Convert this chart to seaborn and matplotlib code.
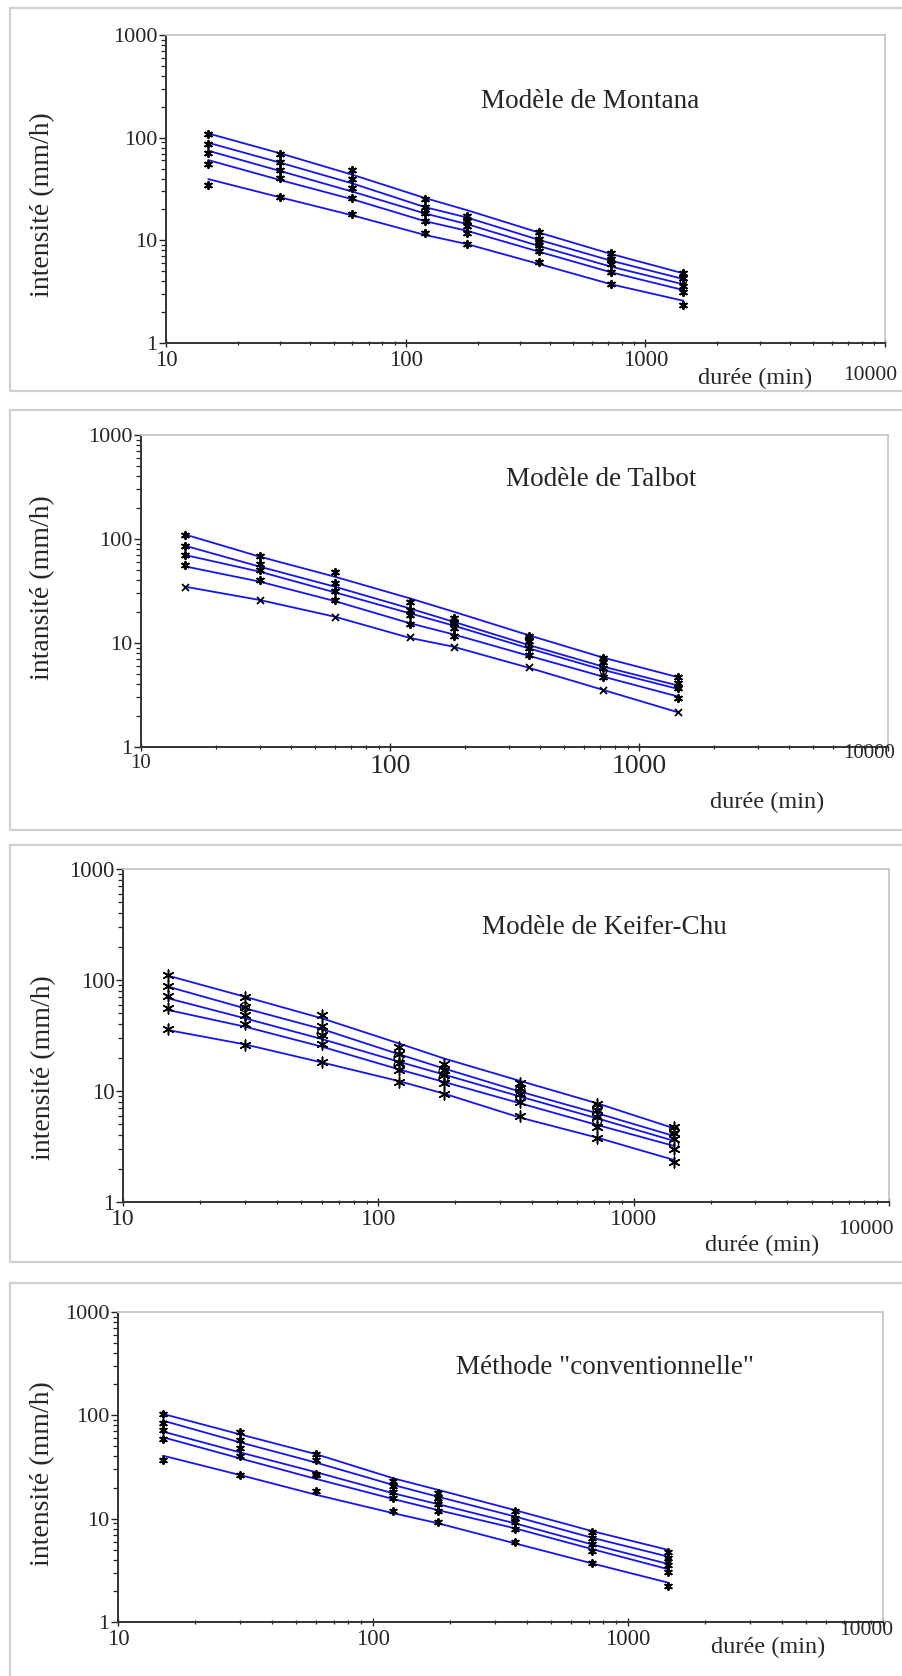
import numpy as np
import pandas as pd
import matplotlib
matplotlib.use("Agg")
import matplotlib.pyplot as plt
import seaborn as sns
from matplotlib.ticker import LogLocator, NullFormatter, FixedLocator, FixedFormatter
from matplotlib.patches import Rectangle

# ---------------- data ----------------
durations = [15, 30, 60, 120, 180, 360, 720, 1440]
x_major_ticks = [10, 100, 1000, 10000]
x_tick_labels = ["10", "100", "1000", ""]
y_major_ticks = [1, 10, 100, 1000]
y_tick_labels = ["1", "10", "100", "1000"]

titles = ["Modèle de Montana", "Modèle de Talbot", "Modèle de Keifer-Chu",
          'Méthode "conventionnelle"']
ylabels = ["intensité (mm/h)", "intansité (mm/h)", "intensité (mm/h)", "intensité (mm/h)"]
xlabel_text = "durée (min)"

# observed intensities (rows: curves from top to bottom)
montana_obs = [
    [108, 68.8, 48.4, 25.2, 17.2, 12.0, 7.47, 4.77],
    [86.1, 57.9, 39.3, 21.2, 15.4, 10.2, 6.58, 4.26],
    [70.3, 48.4, 32.1, 18.3, 13.8, 9.0, 5.84, 3.61],
    [55.3, 40.1, 25.6, 15.5, 11.9, 7.87, 4.95, 3.16],
    [34.5, 26.6, 17.9, 11.9, 9.27, 6.1, 3.75, 2.34],
]
montana_fit = [
    [110, 70.3, 43.5, 25.9, 19.7, 11.9, 7.36, 4.77],
    [89.3, 57.0, 35.8, 21.1, 16.7, 10.1, 6.33, 4.2],
    [74.6, 47.3, 29.8, 18.3, 14.4, 8.8, 5.54, 3.73],
    [60.5, 38.6, 25.1, 15.4, 12.4, 7.75, 4.88, 3.28],
    [39.5, 26.2, 17.5, 11.3, 9.2, 5.88, 3.73, 2.58],
]
talbot_obs = [
    [109, 68.7, 47.8, 25.0, 17.5, 11.8, 7.22, 4.68],
    [86.3, 57.5, 38.0, 20.8, 15.5, 10.5, 6.62, 4.1],
    [70.2, 50.3, 31.6, 18.6, 13.8, 8.9, 5.79, 3.66],
    [56.2, 40.3, 25.9, 15.1, 11.8, 7.67, 4.74, 2.94],
    [34.8, 25.9, 17.9, 11.5, 9.1, 5.84, 3.53, 2.19],
]
talbot_fit = [
    [110.6, 67.6, 43.4, 26.9, 20.0, 11.9, 7.22, 4.68],
    [86.3, 54.2, 34.8, 21.5, 16.0, 9.57, 5.92, 3.89],
    [70.2, 48.5, 30.7, 19.3, 14.7, 8.9, 5.5, 3.61],
    [54.6, 38.9, 25.3, 15.5, 12.1, 7.55, 4.74, 3.05],
    [34.8, 25.9, 17.9, 11.2, 9.2, 5.79, 3.53, 2.15],
]
keifer_obs = [
    [111, 69.8, 48.4, 25.1, 17.4, 11.7, 7.59, 4.77],
    [88.3, 56.7, 38.8, 21.4, 15.5, 10.6, 6.74, 4.16],
    [71.8, 48.4, 32.0, 17.8, 13.9, 9.3, 5.87, 3.70],
    [56.3, 40.1, 26.3, 15.5, 11.7, 8.0, 4.77, 2.98],
    [36.2, 26.0, 18.4, 12.1, 9.4, 5.95, 3.80, 2.31],
]
keifer_fit = [
    [109.4, 70.7, 45.2, 26.9, 19.7, 12.3, 7.74, 4.61],
    [87.1, 55.6, 36.2, 21.5, 16.0, 9.86, 6.3, 3.93],
    [68.4, 45.2, 29.4, 18.4, 14.1, 8.9, 5.67, 3.55],
    [53.7, 38.0, 25.1, 15.7, 12.1, 7.74, 4.94, 3.2],
    [35.4, 26.3, 18.1, 12.3, 9.5, 5.75, 3.80, 2.39],
]
conv_obs = [
    [102.4, 68.6, 42.3, 23.3, 17.6, 11.9, 7.38, 4.8],
    [85.0, 57.8, 36.7, 20.7, 15.7, 10.2, 6.46, 4.19],
    [72.2, 48.7, 27.3, 18.0, 13.9, 9.22, 5.65, 3.56],
    [58.7, 40.2, 26.3, 15.7, 11.9, 7.89, 4.9, 3.03],
    [37.0, 26.5, 18.7, 11.9, 9.29, 6.0, 3.70, 2.23],
]
conv_fit = [
    [103.2, 65.6, 42.0, 24.6, 19.0, 12.1, 7.6, 4.98],
    [88.9, 54.9, 34.8, 21.2, 16.3, 10.5, 6.55, 4.29],
    [69.6, 43.9, 28.1, 17.6, 13.8, 9.02, 5.65, 3.64],
    [61.4, 38.4, 24.2, 15.5, 12.1, 8.07, 5.09, 3.24],
    [40.7, 26.5, 17.0, 11.3, 9.02, 5.77, 3.70, 2.40],
]
# extra circle markers visible in the reference
montana_circ_x = [120, 180, 360, 360, 720, 1440]
montana_circ_y = [19, 15, 10, 9, 6.5, 4.0]
talbot_circ_x = [180, 360, 360, 720, 720, 1440]
talbot_circ_y = [16, 11, 9.5, 6.8, 5.3, 3.8]
keifer_circ_x = [30, 60, 120, 120, 180, 180, 360, 360, 720, 720, 1440, 1440]
keifer_circ_y = [57, 33, 20, 17, 15, 13, 10.3, 8.9, 7.0, 5.4, 4.45, 3.3]
conv_circ_x = [180, 360, 1440]
conv_circ_y = [15, 10, 4.0]

# ---------------- layout (pixels) ----------------
W, H = 902, 1676
sns.set_style("white")
plt.rcParams["font.family"] = ["Liberation Serif", "DejaVu Serif"]

fig = plt.figure(figsize=(W / 100, H / 100), dpi=100)

def frac_rect(x0, y0, x1, y1):
    return [x0 / W, 1 - y1 / H, (x1 - x0) / W, (y1 - y0) / H]

def fx(x):
    return x / W

def fy(y):
    return 1 - y / H

panels = [
    dict(axes=(166, 35, 885, 343), box=(10, 8, 910, 391), obs=montana_obs, fit=montana_fit,
         cx=montana_circ_x, cy=montana_circ_y, title_xy=(590, 101), ylab_xy=(43, 205),
         xlab_xy=(755, 378), x10k=(870, 376), tick_fs=16.5, ytick_fs=16, big=None, small=None,
         star_s=28, star_lw=1.4, x_lowest=False),
    dict(axes=(141, 435, 888, 747), box=(10, 410, 910, 830), obs=talbot_obs, fit=talbot_fit,
         cx=talbot_circ_x, cy=talbot_circ_y, title_xy=(601, 480), ylab_xy=(43, 588),
         xlab_xy=(767, 802), x10k=(869, 753), tick_fs=15, ytick_fs=16, big=20, small=15,
         star_s=28, star_lw=1.4, x_lowest=True),
    dict(axes=(123, 869, 889, 1202), box=(10, 845, 910, 1262), obs=keifer_obs, fit=keifer_fit,
         cx=keifer_circ_x, cy=keifer_circ_y, title_xy=(604, 928), ylab_xy=(44, 1068),
         xlab_xy=(762, 1245), x10k=(866, 1230), tick_fs=17, ytick_fs=16.5, big=None, small=None,
         star_s=60, star_lw=1.1, x_lowest=False),
    dict(axes=(118, 1312, 883, 1622), box=(10, 1283, 910, 1690), obs=conv_obs, fit=conv_fit,
         cx=conv_circ_x, cy=conv_circ_y, title_xy=(605, 1368), ylab_xy=(43, 1474),
         xlab_xy=(768, 1647), x10k=(866, 1630), tick_fs=16.5, ytick_fs=16, big=None, small=None,
         star_s=26, star_lw=1.4, x_lowest=False),
]

line_color = "#1414f0"
star = (6, 2, 0)

for i, p in enumerate(panels):
    bx0, by0, bx1, by1 = p["box"]
    fig.patches.append(Rectangle((fx(bx0), fy(by1)), (bx1 - bx0) / W, (by1 - by0) / H,
                                 transform=fig.transFigure, fill=False,
                                 edgecolor="#cfcfcf", linewidth=1.6, zorder=0))
    ax = fig.add_axes(frac_rect(*p["axes"]))
    ax.set_facecolor("none")

    fit_df = pd.DataFrame([
        dict(duree=d, intensite=v, courbe=k)
        for k, row in enumerate(p["fit"]) for d, v in zip(durations, row)
    ])
    obs_df = pd.DataFrame([
        dict(duree=d, intensite=v, courbe=k)
        for k, row in enumerate(p["obs"]) for d, v in zip(durations, row)
    ])
    circ_df = pd.DataFrame(dict(duree=p["cx"], intensite=p["cy"]))

    sns.lineplot(data=fit_df, x="duree", y="intensite", units="courbe", estimator=None,
                 color=line_color, linewidth=1.3, sort=False, ax=ax)
    if p["x_lowest"]:
        star_df = obs_df[obs_df["courbe"] < 4]
        x_df = obs_df[obs_df["courbe"] == 4]
        sns.scatterplot(data=x_df, x="duree", y="intensite", marker="x", color="black",
                        s=p["star_s"] * 0.9, linewidth=1.3, ax=ax, zorder=5)
    else:
        star_df = obs_df
    sns.scatterplot(data=star_df, x="duree", y="intensite", marker=star, color="black",
                    s=p["star_s"], linewidth=p["star_lw"], ax=ax, zorder=5)
    sns.scatterplot(data=circ_df, x="duree", y="intensite", marker="o", facecolor="none",
                    edgecolor="black", s=p["star_s"] * 0.7, linewidth=1.0, ax=ax, zorder=5)

    ax.set_xscale("log")
    ax.set_yscale("log")
    ax.set_xlim(10, 10000)
    ax.set_ylim(1, 1000)
    ax.xaxis.set_major_locator(FixedLocator(x_major_ticks))
    ax.xaxis.set_major_formatter(FixedFormatter(x_tick_labels))
    ax.xaxis.set_minor_locator(LogLocator(base=10, subs=np.arange(2, 10), numticks=20))
    ax.xaxis.set_minor_formatter(NullFormatter())
    ax.yaxis.set_major_locator(FixedLocator(y_major_ticks))
    ax.yaxis.set_major_formatter(FixedFormatter(y_tick_labels))
    ax.yaxis.set_minor_locator(LogLocator(base=10, subs=np.arange(2, 10), numticks=20))
    ax.yaxis.set_minor_formatter(NullFormatter())

    ax.tick_params(which="both", bottom=True, left=True, top=False, right=False)
    ax.tick_params(axis="x", which="major", direction="inout", length=6, width=1.0,
                   color="#222222", labelsize=p["tick_fs"], pad=2)
    ax.tick_params(axis="x", which="minor", direction="inout", length=3.5, width=0.9,
                   color="#222222")
    ax.tick_params(axis="y", which="major", direction="out", length=5, width=1.0,
                   color="#222222", labelsize=p["ytick_fs"], pad=1)
    ax.tick_params(axis="y", which="minor", direction="out", length=3.5, width=0.9,
                   color="#222222")

    for side in ("left", "bottom"):
        ax.spines[side].set_color("#333333")
        ax.spines[side].set_linewidth(1.4)
    for side in ("top", "right"):
        ax.spines[side].set_color("#c8c8c8")
        ax.spines[side].set_linewidth(1.3)
        ax.spines[side].set_visible(True)

    if p["big"]:
        labs = ax.get_xticklabels()
        labs[1].set_fontsize(p["big"])
        labs[2].set_fontsize(p["big"])

    ax.set_xlabel("")
    ax.set_ylabel("")
    fig.text(fx(p["x10k"][0]), fy(p["x10k"][1]), "10000", ha="center", va="center",
             fontsize=p["small"] or p["tick_fs"] - 1)
    fig.text(fx(p["xlab_xy"][0]), fy(p["xlab_xy"][1]), xlabel_text, ha="center",
             va="center", fontsize=17.5)
    fig.text(fx(p["ylab_xy"][0]), fy(p["ylab_xy"][1]), ylabels[i], ha="center",
             va="center", rotation=90, fontsize=20)
    fig.text(fx(p["title_xy"][0]), fy(p["title_xy"][1]), titles[i], ha="center",
             va="center", fontsize=19.5)
    leg = ax.get_legend()
    if leg is not None:
        leg.remove()

fig.savefig("out.png", dpi=100)
